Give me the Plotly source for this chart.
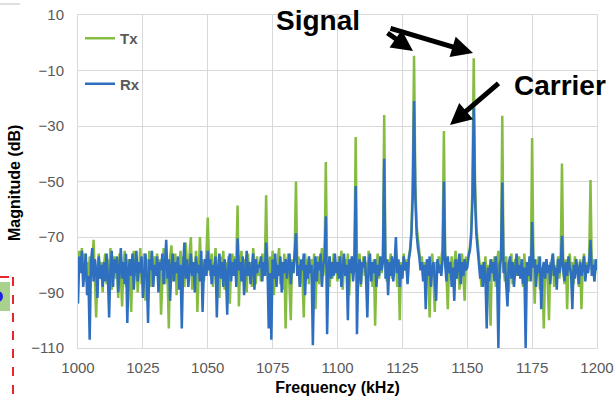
import numpy as np
import plotly.graph_objects as go

# Spectrum sampled every 0.5 kHz from 1000 to 1200 kHz (one row = 10 kHz)
STEP_KHZ = 0.5
START_KHZ = 1000

tx_db = [
    -78, -75, -81, -74, -83, -76, -86, -79, -91, -77, -84, -80, -71, -88, -99, -82, -76, -85, -79, -90,
    -80, -76, -87, -78, -83, -74, -89, -81, -77, -85, -79, -92, -76, -84, -95, -80, -75, -88, -82, -78,
    -86, -97, -79, -75, -84, -77, -90, -81, -74, -87, -80, -76, -93, -78, -83, -75, -88, -79, -85, -77,
    -81, -76, -89, -78, -98, -82, -74, -87, -79, -84, -103, -77, -73, -86, -80, -76, -91, -79, -84, -75,
    -83, -77, -88, -72, -80, -85, -76, -70, -89, -79, -82, -75, -97, -81, -70, -84, -78, -86, -80, -76,
    -63, -79, -84, -76, -88, -80, -74, -86, -81, -92, -77, -83, -75, -89, -79, -85, -77, -94, -80, -76,
    -82, -77, -79, -58.7, -95, -80, -75, -86, -78, -84, -90, -76, -83, -79, -88, -74, -81, -87, -77, -84,
    -79, -86, -76, -83, -80, -55, -82, -88, -77, -84, -75, -91, -79, -85, -78, -74, -87, -81, -89, -76,
    -103, -80, -76, -86, -100, -78, -83, -75, -50, -81, -77, -88, -79, -84, -99, -76, -82, -78, -87, -80,
    -78, -85, -76, -96, -81, -77, -87, -79, -74, -84, -80, -43, -82, -77, -88, -79, -85, -76, -83, -80,
    -86, -77, -81, -75, -89, -80, -78, -84, -76, -91, -79, -83, -77, -80, -34, -78, -85, -76, -88, -81,
    -77, -84, -79, -87, -75, -82, -80, -88, -78, -102, -81, -76, -85, -79, -83, -77, -26, -80, -86, -78,
    -81, -76, -85, -78, -83, -77, -88, -80, -100, -79, -84, -76, -82, -78, -86, -77, -74, -67, -50, -4.7,
    -51, -66, -72, -75, -80, -77, -84, -79, -86, -78, -82, -99, -80, -76, -85, -97, -79, -83, -77, -81,
    -78, -74, -31.8, -76, -84, -96, -79, -83, -77, -87, -80, -75, -85, -78, -89, -81, -76, -84, -93, -77,
    -80, -76, -74, -68, -52, -5.6, -50, -66, -72, -76, -82, -88, -79, -84, -77, -86, -80, -91, -102, -78,
    -83, -77, -88, -79, -75, -85, -78, -26.3, -80, -86, -77, -83, -90, -79, -76, -87, -81, -78, -84, -80,
    -77, -85, -80, -88, -76, -83, -79, -86, -78, -82, -34.3, -80, -94, -78, -84, -77, -89, -81, -85, -103,
    -82, -78, -86, -100, -79, -84, -76, -88, -80, -83, -77, -85, -79, -43.5, -81, -87, -78, -96, -80, -76,
    -84, -79, -87, -77, -82, -80, -88, -78, -96, -81, -76, -85, -79, -83, -77, -49.5, -82, -78, -86, -80,
    -79,
]

rx_db = [
    -94, -77, -83, -75, -88, -80, -76, -91, -84, -107, -79, -74, -86, -78, -82, -92, -77, -85, -80, -88,
    -79, -86, -76, -84, -99, -81, -75, -88, -78, -83, -77, -90, -80, -74, -85, -79, -87, -76, -101, -82,
    -78, -84, -76, -89, -80, -75, -86, -79, -83, -77, -92, -81, -76, -85, -101, -78, -82, -75, -88, -80,
    -84, -77, -90, -79, -82, -76, -87, -80, -71, -85, -78, -93, -81, -76, -86, -79, -83, -77, -89, -80,
    -103, -81, -72, -85, -78, -88, -80, -76, -84, -79, -90, -77, -83, -80, -86, -75, -97, -82, -78, -84,
    -75, -82, -78, -87, -80, -84, -77, -99, -81, -76, -85, -79, -88, -78, -83, -98, -80, -76, -86, -79,
    -84, -78, -88, -70.5, -82, -79, -86, -77, -91, -80, -75, -84, -79, -87, -81, -76, -89, -78, -83, -80,
    -81, -77, -86, -79, -84, -72, -80, -103, -83, -107, -78, -85, -76, -88, -80, -84, -77, -90, -79, -83,
    -78, -85, -80, -76, -87, -79, -83, -77, -68.7, -84, -80, -88, -78, -82, -76, -91, -80, -85, -77, -83,
    -80, -109, -84, -77, -86, -79, -82, -76, -88, -80, -78, -62.5, -105, -81, -77, -85, -79, -84, -76, -83,
    -79, -85, -77, -88, -81, -76, -84, -80, -100, -78, -83, -77, -86, -80, -51.6, -105, -82, -78, -87, -79,
    -81, -77, -85, -99, -80, -76, -86, -79, -83, -78, -88, -80, -84, -77, -82, -79, -41.8, -85, -78, -91,
    -79, -84, -77, -86, -80, -70, -83, -78, -88, -80, -85, -77, -82, -79, -87, -78, -75, -69, -55, -21,
    -56, -69, -74, -77, -82, -79, -86, -80, -96, -78, -84, -77, -88, -81, -79, -85, -93, -78, -83, -80,
    -84, -78, -50, -80, -86, -77, -83, -79, -88, -81, -93, -78, -85, -80, -76, -87, -79, -84, -78, -82,
    -81, -77, -75, -70, -57, -23.5, -56, -69, -74, -78, -85, -80, -88, -79, -84, -103, -81, -86, -78, -83,
    -79, -86, -77, -84, -110, -80, -78, -50.4, -83, -79, -86, -95, -80, -77, -85, -79, -88, -81, -76, -84,
    -80, -85, -78, -87, -81, -110, -79, -84, -77, -86, -64.6, -81, -78, -88, -80, -83, -77, -96, -82, -79,
    -85, -78, -83, -80, -87, -79, -76, -84, -81, -89, -78, -83, -80, -69.6, -82, -86, -79, -84, -77, -81,
    -83, -96, -80, -85, -78, -82, -87, -79, -84, -81, -77, -86, -80, -83, -79, -71, -84, -80, -86, -78,
    -82,
]

freq_khz = START_KHZ + STEP_KHZ * np.arange(len(tx_db))

x_tick_vals = [1000, 1025, 1050, 1075, 1100, 1125, 1150, 1175, 1200]
y_tick_vals = [10, -10, -30, -50, -70, -90, -110]

TX_COLOR = "#86BC42"
RX_COLOR = "#2F6FC0"
FONT = "Liberation Sans, Arial, sans-serif"

# Canvas geometry (pixels) and helpers to place overlay items
W_PX, H_PX = 616, 403
M_L, M_R, M_T, M_B = 78, 19, 15, 55
PLOT_W = W_PX - M_L - M_R
PLOT_H = H_PX - M_T - M_B


def px(x):
    return (x - M_L) / PLOT_W


def py(y):
    return (H_PX - M_B - y) / PLOT_H


fig = go.Figure()
fig.add_trace(go.Scatter(
    x=freq_khz, y=tx_db, mode="lines", name="Tx", legendgroup="tx",
    line=dict(color=TX_COLOR, width=2.5),
))
fig.add_trace(go.Scatter(
    x=freq_khz, y=rx_db, mode="lines", name="Rx", legendgroup="rx",
    line=dict(color=RX_COLOR, width=2.5),
))

grid = "#D9D9D9"
fig.update_xaxes(
    range=[1000, 1200], tickvals=x_tick_vals, showgrid=True, gridcolor=grid, gridwidth=1,
    showline=True, linecolor=grid, mirror=True, zeroline=False, ticks="",
    automargin=False, ticklabelstandoff=6,
    tickfont=dict(family=FONT, size=15, color="#595959"),
    title=dict(text="Frequency (kHz)", standoff=6,
               font=dict(family=FONT, size=16, color="#000000", weight="bold")),
)
fig.update_yaxes(
    range=[-110, 10], tickvals=y_tick_vals, showgrid=True, gridcolor=grid, gridwidth=1,
    showline=True, linecolor=grid, mirror=True, zeroline=False, ticks="",
    automargin=False, ticklabelstandoff=10,
    tickfont=dict(family=FONT, size=15, color="#595959"),
)

arrow_style = dict(showarrow=True, text="", arrowhead=2, arrowsize=0.85, arrowwidth=5,
                   arrowcolor="#000000", standoff=0, xref="paper", yref="paper")
annotations = [
    dict(text="Signal", x=px(318), y=py(20), xref="paper", yref="paper", showarrow=False,
         xanchor="center", yanchor="middle",
         font=dict(family=FONT, size=28, color="#000000", weight="bold")),
    dict(text="Carrier", x=px(560), y=py(86), xref="paper", yref="paper", showarrow=False,
         xanchor="center", yanchor="middle",
         font=dict(family=FONT, size=28, color="#000000", weight="bold")),
    dict(x=px(413), y=py(51), ax=-27, ay=-19, **arrow_style),
    dict(x=px(473), y=py(53), ax=-84, ay=-25, **arrow_style),
    dict(x=px(450), y=py(125), ax=50, ay=-43, **arrow_style),
    dict(text="Magnitude (dB)", textangle=-90, x=px(15), y=py(183), xref="paper", yref="paper",
         showarrow=False, xanchor="center", yanchor="middle",
         font=dict(family=FONT, size=16, color="#000000", weight="bold")),
]

shapes = [
    dict(type="line", xref="paper", yref="paper", x0=px(0), x1=px(20), y0=py(4), y1=py(4),
         line=dict(color="#BFBFBF", width=1)),
    dict(type="rect", xref="paper", yref="paper", x0=px(-2), x1=px(10), y0=py(282), y1=py(311),
         fillcolor="#A9D18E", line=dict(width=0)),
    dict(type="circle", xref="paper", yref="paper", x0=px(-8), x1=px(3), y0=py(291), y1=py(302),
         fillcolor="#1F1FE0", line=dict(width=0)),
    dict(type="line", xref="paper", yref="paper", x0=px(0), x1=px(13), y0=py(277), y1=py(277),
         line=dict(color="#E8262B", width=2, dash="dash")),
    dict(type="line", xref="paper", yref="paper", x0=px(13), x1=px(13), y0=py(277), y1=py(405),
         line=dict(color="#E8262B", width=2, dash="dash")),
]

fig.update_layout(
    width=W_PX, height=H_PX, autosize=False,
    margin=dict(l=M_L, r=M_R, t=M_T, b=M_B, pad=0),
    paper_bgcolor="#FFFFFF", plot_bgcolor="#FFFFFF",
    showlegend=True,
    legend=dict(x=px(80), y=py(22), xanchor="left", yanchor="top",
                bgcolor="rgba(0,0,0,0)", tracegroupgap=23,
                font=dict(family=FONT, size=15, color="#595959", weight="bold")),
    annotations=annotations,
    shapes=shapes,
)

fig.write_html("out.html")
